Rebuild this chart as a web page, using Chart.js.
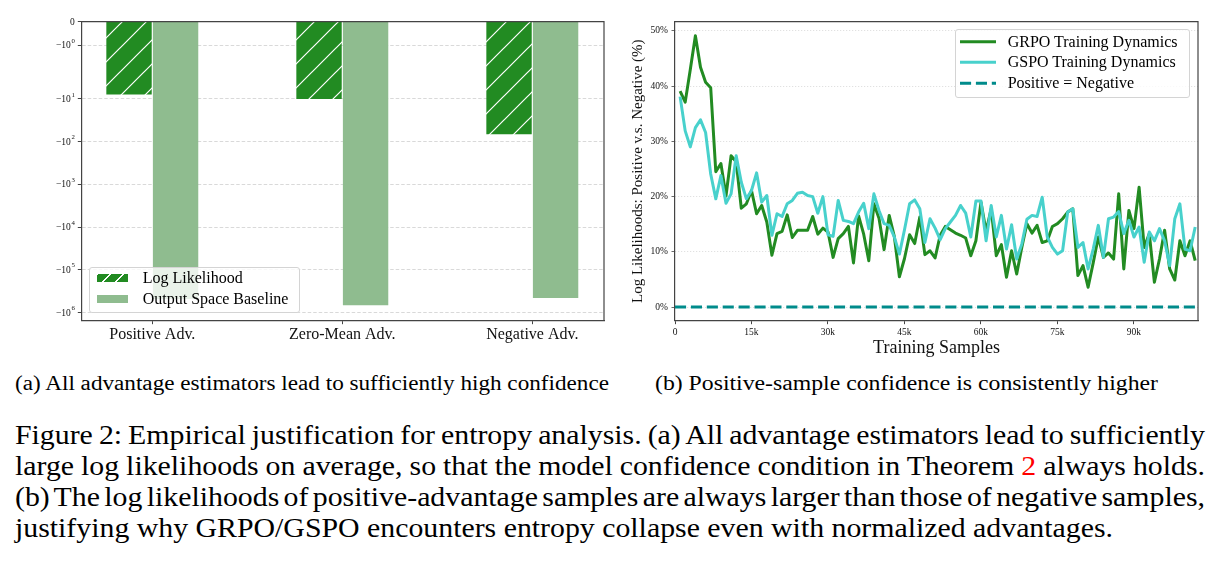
<!DOCTYPE html>
<html>
<head>
<meta charset="utf-8">
<script src="https://cdn.jsdelivr.net/npm/chart.js@4.4.1/dist/chart.umd.min.js"></script>
<style>
  html, body { margin: 0; padding: 0; background: #fff; }
  body { width: 1225px; height: 564px; position: relative; overflow: hidden;
         font-family: "Liberation Serif", "Times New Roman", serif; color: #000; }
  canvas { position: absolute; }
  #barCanvas { left: 0; top: 0; }
  #lineCanvas { left: 615px; top: 0; }
  .legend { position: absolute; background: rgba(255,255,255,0.8); border: 1px solid #d4d4d4;
            border-radius: 3px; box-sizing: border-box; }
  .ltext { position: absolute; font-size: 16px; line-height: 20px; height: 20px; white-space: nowrap; }
  .patch { position: absolute; width: 31px; height: 8px; }
  .hatch { background: repeating-linear-gradient(-45deg, #228B22 0px, #228B22 8px, #ffffff 8px, #ffffff 9.2px); }
  .plain { background: #8FBC8F; }
  .handle { position: absolute; }
  .cap { position: absolute; white-space: nowrap; display: inline-block; transform-origin: 0 50%; }
  .sub { font-size: 20.5px; line-height: 24px; }
  .main { font-size: 27px; line-height: 31px; }
  .red { color: #ff0000; }
</style>
</head>
<body>
<canvas id="barCanvas" width="615" height="350"></canvas>
<canvas id="lineCanvas" width="610" height="360"></canvas>

<!-- legend (a) -->
<div class="legend" style="left:89px;top:266.5px;width:210.5px;height:46.5px;"></div>
<div class="patch hatch" style="left:97.3px;top:274px;"></div>
<div class="ltext" style="left:142.7px;top:268.3px;">Log Likelihood</div>
<div class="patch plain" style="left:97.3px;top:294.5px;"></div>
<div class="ltext" style="left:142.7px;top:288.5px;">Output Space Baseline</div>

<!-- legend (b) -->
<div class="legend" style="left:955px;top:29.3px;width:234.5px;height:68.5px;"></div>
<svg class="handle" style="left:959px;top:35px;" width="40" height="56">
  <line x1="1" y1="6.7" x2="37" y2="6.7" stroke="#228B22" stroke-width="3"/>
  <line x1="1" y1="27.3" x2="37" y2="27.3" stroke="#48D1CC" stroke-width="3"/>
  <line x1="1" y1="48.3" x2="37" y2="48.3" stroke="#008B8B" stroke-width="3" stroke-dasharray="11.1 4.8"/>
</svg>
<div class="ltext" style="left:1007.7px;top:31.7px;">GRPO Training Dynamics</div>
<div class="ltext" style="left:1007.7px;top:52.3px;">GSPO Training Dynamics</div>
<div class="ltext" style="left:1007.7px;top:73.3px;">Positive = Negative</div>

<!-- captions -->
<div id="subA" class="cap sub" style="left:15px;top:371px;">(a) All advantage estimators lead to sufficiently high confidence</div>
<div id="subB" class="cap sub" style="left:655px;top:371px;">(b) Positive-sample confidence is consistently higher</div>
<div id="m1" class="cap main" style="left:15px;top:419.5px;">Figure 2: Empirical justification for entropy analysis. (a) All advantage estimators lead to sufficiently</div>
<div id="m2" class="cap main" style="left:15px;top:450.5px;">large log likelihoods on average, so that the model confidence condition in Theorem <span class="red">2</span> always holds.</div>
<div id="m3" class="cap main" style="left:15px;top:481.5px;">(b) The log likelihoods of positive-advantage samples are always larger than those of negative samples,</div>
<div id="m4" class="cap main" style="left:15px;top:512.5px;">justifying why GRPO/GSPO encounters entropy collapse even with normalized advantages.</div>

<script>
// ---------------- DATA: panel (a) ----------------
const categories = ["Positive Adv.", "Zero-Mean Adv.", "Negative Adv."];
const logLikelihood = [-7.9, -10, -67];
const outputSpaceBaseline = [-4.8e5, -6.8e5, -4.6e5];
const symlogTickValues = [0, -1, -10, -100, -1000, -10000, -100000, -1000000];
const symlogTickBase = ["0", "\u221210", "\u221210", "\u221210", "\u221210", "\u221210", "\u221210", "\u221210"];
const symlogTickExp = ["", "0", "1", "2", "3", "4", "5", "6"];

// ---------------- DATA: panel (b) ----------------
const trainingSamplesK = [1,2,3,4,5,6,7,8,9,10,11,12,13,14,15,16,17,18,19,20,21,22,23,24,25,26,27,28,29,30,
  31,32,33,34,35,36,37,38,39,40,41,42,43,44,45,46,47,48,49,50,51,52,53,54,55,56,57,58,59,60,
  61,62,63,64,65,66,67,68,69,70,71,72,73,74,75,76,77,78,79,80,81,82,83,84,85,86,87,88,89,90,
  91,92,93,94,95,96,97,98,99,100,101,102];
const grpo = [39.1, 37.1, 43.0, 49.1, 43.4, 40.7, 39.7, 24.5, 26.0, 20.1,
  27.4, 26.3, 17.9, 18.7, 21.1, 16.9, 18.4, 15.4, 9.4, 13.3,
  13.7, 16.7, 12.6, 13.9, 13.9, 13.9, 16.4, 13.2, 14.3, 13.6,
  9.0, 12.4, 13.3, 14.6, 8.0, 16.5, 13.2, 8.4, 18.7, 16.1,
  10.4, 16.6, 12.8, 5.5, 8.8, 13.1, 11.5, 16.3, 9.5, 10.2,
  8.9, 13.0, 14.6, 14.0, 13.4, 13.0, 12.5, 9.3, 12.0, 19.0,
  13.7, 17.8, 9.3, 11.3, 5.4, 10.2, 6.0, 10.8, 15.1, 13.4,
  14.8, 11.7, 12.0, 14.6, 15.1, 16.0, 17.2, 17.8, 5.7, 7.5,
  3.6, 8.0, 12.7, 9.0, 9.8, 8.7, 20.5, 6.9, 17.5, 14.2,
  21.7, 10.8, 13.3, 4.5, 8.7, 13.9, 6.9, 4.9, 12.0, 9.3,
  12.0, 8.4];
const gspo = [38.1, 31.9, 29.0, 32.5, 33.9, 31.6, 24.1, 19.6, 23.8, 18.8,
  20.5, 27.4, 22.6, 19.6, 21.1, 24.3, 19.0, 20.2, 13.0, 16.9,
  16.4, 18.7, 19.3, 20.6, 20.8, 20.2, 20.0, 17.0, 20.0, 13.1,
  12.8, 19.3, 15.7, 15.5, 15.1, 17.2, 18.8, 14.2, 20.5, 17.5,
  15.1, 14.8, 12.7, 9.6, 14.0, 18.7, 19.4, 17.8, 11.7, 16.0,
  14.3, 12.2, 14.2, 15.4, 16.6, 18.4, 17.0, 12.7, 19.2, 19.2,
  12.0, 18.4, 12.7, 16.6, 10.5, 14.9, 8.7, 11.4, 15.9, 16.6,
  16.4, 19.9, 12.7, 10.8, 9.6, 10.2, 17.2, 17.8, 10.8, 11.7,
  6.9, 10.5, 14.8, 9.0, 16.0, 16.3, 17.3, 13.3, 15.7, 12.7,
  14.5, 8.1, 13.6, 12.0, 14.2, 12.0, 7.5, 16.0, 18.7, 10.5,
  10.2, 14.5];
const parityX = [0, 102.55];
const parityY = [0, 0];
const xTickValues = [0, 15, 30, 45, 60, 75, 90];
const xTickLabels = ["0", "15k", "30k", "45k", "60k", "75k", "90k"];
const yTickValues = [0, 10, 20, 30, 40, 50];
const yTickLabels = ["0%", "10%", "20%", "30%", "40%", "50%"];

// ---------------- styling ----------------
const SERIF = '"Liberation Serif", "Times New Roman", serif';
Chart.defaults.font.family = SERIF;
Chart.defaults.color = '#111';
const SPINE = '#444';

// symlog (linthresh = 2, base 10, linscale = 1) as a Chart.js scale
const LINTHRESH = 2, LINSCALE = 1 / (1 - 1 / 10);
function symT(v) {
  const a = Math.abs(v);
  const t = a <= LINTHRESH ? (a / LINTHRESH) * LINSCALE : LINSCALE + Math.log10(a / LINTHRESH);
  return v < 0 ? -t : t;
}
function symInv(t) {
  const a = Math.abs(t);
  const v = a <= LINSCALE ? (a / LINSCALE) * LINTHRESH : LINTHRESH * Math.pow(10, a - LINSCALE);
  return t < 0 ? -v : v;
}
class SymLogScale extends Chart.LinearScale {
  static id = 'symlog';
  buildTicks() { return symlogTickValues.map(v => ({ value: v })); }
  configure() {
    super.configure();
    this._tMin = symT(this.min);
    this._tMax = symT(this.max);
  }
  getPixelForValue(value) {
    if (value === null || value === undefined || isNaN(value)) return NaN;
    return this.getPixelForDecimal((symT(value) - this._tMin) / (this._tMax - this._tMin));
  }
  getValueForPixel(pixel) {
    const d = this.getDecimalForPixel(pixel);
    return symInv(this._tMin + d * (this._tMax - this._tMin));
  }
}
Chart.register(SymLogScale);

const spinePlugin = {
  id: 'spines',
  afterDraw(chart) {
    const { ctx, chartArea: { left, top, right, bottom } } = chart;
    ctx.save();
    ctx.strokeStyle = SPINE;
    ctx.lineWidth = 1.2;
    ctx.beginPath();
    ctx.moveTo(left, top); ctx.lineTo(right, top); ctx.lineTo(right, bottom);
    ctx.stroke();
    ctx.restore();
  }
};

// tick labels with superscript exponents for the symlog axis
const symlogLabelPlugin = {
  id: 'symlogLabels',
  afterDraw(chart) {
    const s = chart.scales.y, ctx = chart.ctx;
    const right = s.right - 3.5 - 3;
    ctx.save();
    ctx.fillStyle = '#111';
    ctx.textAlign = 'right';
    ctx.textBaseline = 'middle';
    symlogTickValues.forEach((v, i) => {
      const y = s.getPixelForValue(v);
      let x = right;
      if (symlogTickExp[i]) {
        ctx.font = '6.8px ' + SERIF;
        ctx.fillText(symlogTickExp[i], x, y - 4.2);
        x -= ctx.measureText(symlogTickExp[i]).width + 0.6;
      }
      ctx.font = '9.5px ' + SERIF;
      ctx.fillText(symlogTickBase[i], x, y + 0.5);
    });
    ctx.restore();
  }
};

// hatch pattern '/'
function makeHatch() {
  const s = 24, c = document.createElement('canvas');
  c.width = s; c.height = s;
  const g = c.getContext('2d');
  g.fillStyle = '#228B22'; g.fillRect(0, 0, s, s);
  g.strokeStyle = '#ffffff'; g.lineWidth = 1.2;
  g.beginPath();
  g.moveTo(-2, s + 2); g.lineTo(s + 2, -2);
  g.moveTo(-2, 2); g.lineTo(2, -2);
  g.moveTo(s - 2, s + 2); g.lineTo(s + 2, s - 2);
  g.stroke();
  return g.createPattern(c, 'repeat');
}

// ---------------- chart (a) ----------------
new Chart(document.getElementById('barCanvas'), {
  type: 'bar',
  data: {
    datasets: [
      { label: 'Log Likelihood', data: categories.map((c, i) => ({ x: i, y: logLikelihood[i] })),
        backgroundColor: makeHatch(), borderWidth: 0 },
      { label: 'Output Space Baseline', data: categories.map((c, i) => ({ x: i, y: outputSpaceBaseline[i] })),
        backgroundColor: '#8FBC8F', borderWidth: 0 }
    ]
  },
  options: {
    responsive: false, animation: false, devicePixelRatio: 1,
    categoryPercentage: 0.49, barPercentage: 0.975,
    layout: { padding: { left: 0, top: 21.7, right: 11, bottom: 0 } },
    plugins: { legend: { display: false }, tooltip: { enabled: false } },
    scales: {
      x: {
        type: 'linear', min: -0.3737, max: 2.3773, offset: false,
        afterBuildTicks: a => { a.ticks = categories.map((c, i) => ({ value: i })); },
        afterFit: s => { s.height = 350 - 320.7; },
        grid: { display: true, drawOnChartArea: false, drawTicks: true, tickLength: 3.5, tickColor: SPINE, offset: false },
        border: { display: true, color: SPINE, width: 1.2 },
        ticks: { font: { size: 16 }, color: '#111', padding: 1, maxRotation: 0, autoSkip: false,
                 callback: (v) => categories[v] }
      },
      y: {
        type: 'symlog', min: -1.556e6, max: 0,
        afterFit: s => { s.width = 81.3; },
        grid: { display: true, color: '#cfcfcf', lineWidth: 0.8, drawTicks: true, tickLength: 3.5, tickColor: SPINE, tickWidth: 1 },
        border: { display: true, color: SPINE, width: 1.2, dash: [3.5, 2] },
        ticks: { display: false, autoSkip: false }
      }
    }
  },
  plugins: [spinePlugin, symlogLabelPlugin]
});

// ---------------- chart (b) ----------------
new Chart(document.getElementById('lineCanvas'), {
  type: 'line',
  data: {
    datasets: [
      { label: 'GRPO Training Dynamics', data: trainingSamplesK.map((x, i) => ({ x, y: grpo[i] })),
        borderColor: '#228B22', borderWidth: 3, pointRadius: 0, tension: 0, fill: false,
        borderJoinStyle: 'round', order: 3 },
      { label: 'GSPO Training Dynamics', data: trainingSamplesK.map((x, i) => ({ x, y: gspo[i] })),
        borderColor: '#48D1CC', borderWidth: 3, pointRadius: 0, tension: 0, fill: false,
        borderJoinStyle: 'round', order: 2 },
      { label: 'Positive = Negative', data: parityX.map((x, i) => ({ x, y: parityY[i] })),
        borderColor: '#008B8B', borderWidth: 3, borderDash: [11.1, 4.8], pointRadius: 0, fill: false, order: 1 }
    ]
  },
  options: {
    responsive: false, animation: false, devicePixelRatio: 1,
    layout: { padding: { left: 0, top: 21.7, right: 27, bottom: 0 } },
    plugins: { legend: { display: false }, tooltip: { enabled: false } },
    scales: {
      x: {
        type: 'linear', min: 0, max: 102.55,
        afterBuildTicks: a => { a.ticks = xTickValues.map(v => ({ value: v })); },
        afterFit: s => { s.height = 360 - 320.7; },
        grid: { display: true, drawOnChartArea: false, drawTicks: true, tickLength: 3.5, tickColor: SPINE },
        border: { display: true, color: SPINE, width: 1.2 },
        ticks: { font: { size: 9.5 }, color: '#111', padding: 2.5, maxRotation: 0, autoSkip: false,
                 callback: (v, i) => xTickLabels[i] },
        title: { display: true, text: 'Training Samples', font: { size: 18 }, color: '#111',
                 padding: { top: 0, bottom: 1 } }
      },
      y: {
        type: 'linear', min: -2.46, max: 51.66,
        afterBuildTicks: a => { a.ticks = yTickValues.map(v => ({ value: v })); },
        afterFit: s => { s.width = 60; },
        grid: { display: true, color: '#d0d0d0', lineWidth: 0.8, drawTicks: true, tickLength: 3.5, tickColor: SPINE },
        border: { display: true, color: SPINE, width: 1.2, dash: [1, 2] },
        ticks: { font: { size: 9.5 }, color: '#111', padding: 3.5, autoSkip: false,
                 callback: (v, i) => yTickLabels[i] },
        title: { display: true, text: 'Log Likelihoods: Positive v.s. Negative (%)', font: { size: 15 }, color: '#111',
                 padding: { top: 14, bottom: 0 } }
      }
    }
  },
  plugins: [spinePlugin]
});

// ---------------- caption fitting (horizontal scale, like the compressed source) ----------------
function naturalWidth(el) { return el.getBoundingClientRect().width; }
function scaleTo(el, targetW) {
  const s = targetW / naturalWidth(el);
  el.style.transform = 'scaleX(' + s + ')';
}
scaleTo(document.getElementById('subA'), 594);
scaleTo(document.getElementById('subB'), 503);
const m4 = document.getElementById('m4');
const mainScale = 1098 / naturalWidth(m4);
['m1', 'm2', 'm3', 'm4'].forEach(id => {
  const el = document.getElementById(id);
  if (id !== 'm4') {
    const w = naturalWidth(el);
    const spaces = (el.textContent.match(/ /g) || []).length;
    el.style.wordSpacing = ((1190 / mainScale - w) / spaces) + 'px';
  }
  el.style.transform = 'scaleX(' + mainScale + ')';
});
</script>
</body>
</html>
